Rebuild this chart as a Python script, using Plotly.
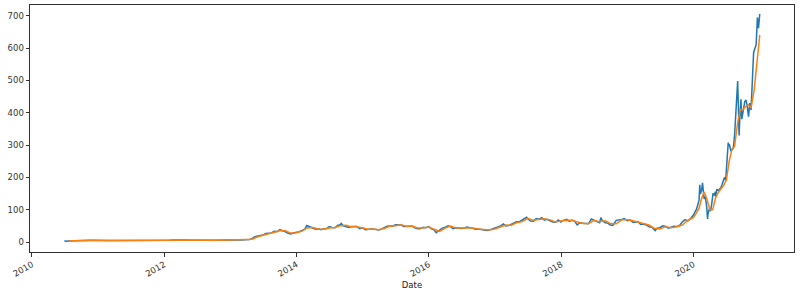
import plotly.graph_objects as go

close_dates = [
"2010-06-29","2010-07-06","2010-07-20","2010-08-16","2010-09-15","2010-10-15","2010-11-10","2010-12-01","2010-12-31",
"2011-01-31","2011-02-28","2011-03-31","2011-04-29","2011-05-31","2011-06-30","2011-07-29","2011-08-31","2011-09-30","2011-10-31","2011-11-30","2011-12-30",
"2012-01-31","2012-02-29","2012-03-30","2012-04-30","2012-05-31","2012-06-29","2012-07-31","2012-08-31","2012-09-28","2012-10-31","2012-11-30","2012-12-31",
"2013-01-31","2013-02-28","2013-03-28","2013-04-15","2013-04-30","2013-05-10","2013-05-31","2013-06-14","2013-06-28","2013-07-15","2013-07-31","2013-08-15","2013-08-30","2013-09-16","2013-09-30","2013-10-15","2013-10-31","2013-11-15","2013-11-29","2013-12-13","2013-12-31",
"2014-01-15","2014-01-31","2014-02-14","2014-02-26","2014-03-14","2014-03-31","2014-04-15","2014-04-30","2014-05-15","2014-05-30","2014-06-13","2014-06-30","2014-07-15","2014-07-31","2014-08-15","2014-08-29","2014-09-04","2014-09-15","2014-09-30","2014-10-15","2014-10-31","2014-11-14","2014-11-28","2014-12-15","2014-12-31",
"2015-01-15","2015-01-30","2015-02-13","2015-02-27","2015-03-13","2015-03-31","2015-04-15","2015-04-30","2015-05-15","2015-05-29","2015-06-15","2015-06-30","2015-07-15","2015-07-31","2015-08-14","2015-08-31","2015-09-15","2015-09-30","2015-10-15","2015-10-30","2015-11-13","2015-11-30","2015-12-15","2015-12-31",
"2016-01-15","2016-01-29","2016-02-10","2016-02-29","2016-03-15","2016-03-31","2016-04-15","2016-04-29","2016-05-13","2016-05-31","2016-06-15","2016-06-30","2016-07-15","2016-07-29","2016-08-15","2016-08-31","2016-09-15","2016-09-30","2016-10-14","2016-10-31","2016-11-14","2016-11-30","2016-12-15","2016-12-30",
"2017-01-13","2017-01-31","2017-02-15","2017-02-28","2017-03-15","2017-03-31","2017-04-13","2017-04-28","2017-05-15","2017-05-31","2017-06-15","2017-06-23","2017-06-30","2017-07-14","2017-07-31","2017-08-15","2017-08-31","2017-09-15","2017-09-29","2017-10-13","2017-10-31","2017-11-15","2017-11-30","2017-12-15","2017-12-29",
"2018-01-12","2018-01-31","2018-02-14","2018-02-28","2018-03-15","2018-03-29","2018-04-13","2018-04-30","2018-05-15","2018-05-31","2018-06-15","2018-06-29","2018-07-13","2018-07-31","2018-08-07","2018-08-15","2018-08-31","2018-09-14","2018-09-28","2018-10-12","2018-10-31","2018-11-15","2018-11-30","2018-12-14","2018-12-31",
"2019-01-15","2019-01-31","2019-02-15","2019-02-28","2019-03-15","2019-03-29","2019-04-15","2019-04-30","2019-05-15","2019-05-31","2019-06-03","2019-06-14","2019-06-28","2019-07-15","2019-07-31","2019-08-15","2019-08-30","2019-09-13","2019-09-30","2019-10-15","2019-10-31","2019-11-15","2019-11-29","2019-12-13","2019-12-31",
"2020-01-03","2020-01-10","2020-01-17","2020-01-24","2020-01-31","2020-02-04","2020-02-07","2020-02-14","2020-02-19","2020-02-28","2020-03-06","2020-03-13","2020-03-18","2020-03-20","2020-03-27","2020-04-03","2020-04-09","2020-04-17","2020-04-24","2020-04-30","2020-05-01","2020-05-08","2020-05-15","2020-05-22","2020-05-29","2020-06-05","2020-06-12","2020-06-19","2020-06-26","2020-07-02","2020-07-10","2020-07-13","2020-07-17","2020-07-24","2020-07-31","2020-08-07","2020-08-14","2020-08-21","2020-08-28","2020-08-31","2020-09-04","2020-09-08","2020-09-11","2020-09-18","2020-09-23","2020-10-02","2020-10-09","2020-10-16","2020-10-23","2020-10-30","2020-11-06","2020-11-13","2020-11-20","2020-11-27","2020-12-04","2020-12-11","2020-12-18","2020-12-24","2020-12-31",
]
close_values = [
4.78,3.2,4.0,3.9,4.1,4.1,5.8,6.0,5.3,
4.8,4.8,5.5,5.4,6.0,5.8,5.5,4.9,4.9,5.8,6.5,5.7,
5.8,6.7,7.4,6.6,5.9,6.3,5.6,5.7,5.9,5.6,6.8,6.8,
7.5,7.0,7.6,8.5,10.8,15.5,19.5,19.7,21.9,26.6,26.9,28.4,33.7,33.0,38.6,36.4,31.9,27.1,25.4,28.3,30.1,
32.5,36.3,39.9,51.5,46.8,41.7,39.8,41.5,38.8,41.5,41.3,48.0,45.2,44.7,51.6,53.8,57.7,50.6,48.5,45.5,48.2,49.5,48.8,41.4,44.5,
38.4,40.8,40.8,40.5,38.7,37.8,41.0,45.0,49.4,50.0,49.8,53.7,53.2,53.3,48.7,49.7,50.6,49.7,44.3,41.3,41.3,46.0,44.5,48.0,
41.0,38.2,29.5,38.3,43.4,45.9,50.9,48.0,41.6,44.6,43.4,42.4,44.0,46.9,45.0,42.5,40.0,40.8,39.2,39.5,36.4,37.6,40.3,42.7,
47.5,50.4,56.2,49.9,51.1,55.7,60.9,62.9,63.2,68.2,74.6,77.0,72.2,65.5,65.0,72.9,71.1,75.9,68.2,71.0,66.2,62.2,61.7,68.8,62.3,
67.3,70.9,64.7,68.6,65.1,53.2,60.0,58.6,57.6,56.9,71.6,68.6,63.7,59.9,75.9,67.0,60.3,58.9,52.9,51.6,67.5,68.6,70.1,73.2,66.6,
68.8,61.4,61.5,63.9,55.0,55.9,53.4,47.7,46.0,37.0,35.8,43.0,44.7,50.4,48.3,43.0,45.1,49.0,48.1,51.5,62.7,69.5,65.9,71.9,83.7,
88.6,95.0,102.1,113.9,130.1,177.4,149.0,160.0,183.5,133.6,140.7,109.3,72.2,85.5,102.9,96.0,114.6,150.8,145.0,156.4,140.3,163.9,159.8,163.4,167.0,177.1,187.1,200.2,191.9,241.7,308.0,299.4,300.2,283.4,286.2,290.5,330.1,409.0,442.7,498.3,418.3,330.2,372.7,442.2,380.4,415.1,434.0,439.7,420.6,388.0,429.9,408.5,489.6,585.8,599.0,609.9,695.0,661.8,705.7,
]

ma_dates = [
"2010-07-27","2010-09-30","2010-11-30","2010-12-31",
"2011-03-31","2011-06-30","2011-09-30","2011-12-30",
"2012-03-30","2012-06-29","2012-09-28","2012-12-31",
"2013-03-28","2013-04-30","2013-05-31","2013-06-28","2013-07-31","2013-08-30","2013-09-30","2013-10-31","2013-11-29","2013-12-31",
"2014-01-31","2014-02-28","2014-03-31","2014-04-30","2014-05-30","2014-06-30","2014-07-31","2014-08-29","2014-09-30","2014-10-31","2014-11-28","2014-12-31",
"2015-01-30","2015-02-27","2015-03-31","2015-04-30","2015-05-29","2015-06-30","2015-07-31","2015-08-31","2015-09-30","2015-10-30","2015-11-30","2015-12-31",
"2016-01-29","2016-02-29","2016-03-31","2016-04-29","2016-05-31","2016-06-30","2016-07-29","2016-08-31","2016-09-30","2016-10-31","2016-11-30","2016-12-30",
"2017-01-31","2017-02-28","2017-03-31","2017-04-28","2017-05-31","2017-06-30","2017-07-31","2017-08-31","2017-09-29","2017-10-31","2017-11-30","2017-12-29",
"2018-01-31","2018-02-28","2018-03-29","2018-04-30","2018-05-31","2018-06-29","2018-07-31","2018-08-31","2018-09-28","2018-10-31","2018-11-30","2018-12-31",
"2019-01-31","2019-02-28","2019-03-29","2019-04-30","2019-05-31","2019-06-28","2019-07-31","2019-08-30","2019-09-30","2019-10-31","2019-11-29","2019-12-31",
"2020-01-15","2020-01-31","2020-02-14","2020-02-28","2020-03-13","2020-03-31","2020-04-15","2020-04-30","2020-05-15","2020-05-29","2020-06-15","2020-06-30","2020-07-15","2020-07-31","2020-08-14","2020-08-31","2020-09-15","2020-09-30","2020-10-15","2020-10-30","2020-11-13","2020-11-30","2020-12-15","2020-12-31",
]
ma_values = [
4.1,4.1,5.7,6.0,
5.0,5.7,4.9,6.2,
7.0,6.1,5.8,6.6,
7.5,9.0,16.5,20.5,25.5,30.0,35.5,35.0,28.0,29.0,
34.0,44.0,45.0,41.0,40.0,44.0,45.5,50.5,52.5,47.0,48.5,43.5,
40.0,40.5,38.5,42.5,49.0,51.0,53.5,48.5,50.0,44.0,43.5,46.5,
41.0,33.5,43.5,50.0,43.5,44.0,45.0,44.0,40.5,40.0,37.5,40.5,
48.5,53.0,52.5,60.0,63.5,73.5,67.5,70.5,72.5,69.0,62.5,65.5,
68.0,67.0,62.0,57.5,57.5,67.0,63.0,66.0,57.5,57.0,69.0,69.5,
66.0,62.0,56.5,53.0,42.0,41.0,48.0,45.0,48.0,53.0,67.0,76.0,
89.0,105.0,135.0,155.0,135.0,100.0,100.0,135.0,153.0,162.0,176.0,193.0,250.0,288.0,296.0,370.0,410.0,410.0,420.0,425.0,415.0,470.0,565.0,640.0,
]

y_ticks = [0, 100, 200, 300, 400, 500, 600, 700]
x_tick_years = ["2010", "2012", "2014", "2016", "2018", "2020"]

fig = go.Figure()
fig.add_trace(go.Scatter(x=close_dates, y=close_values, mode="lines",
                         line=dict(color="#1f77b4", width=1.5), name="Close"))
fig.add_trace(go.Scatter(x=ma_dates, y=ma_values, mode="lines",
                         line=dict(color="#ff7f0e", width=1.5), name="MA"))

font = dict(family="DejaVu Sans", size=8.5, color="#333")
fig.update_layout(
    width=806, height=293,
    margin=dict(l=30, r=12, t=4, b=38),
    paper_bgcolor="white", plot_bgcolor="white",
    showlegend=False,
    font=font,
)
fig.update_xaxes(
    type="date",
    range=["2009-12-21", "2021-07-08"],
    tickvals=[y + "-01-01" for y in x_tick_years],
    ticktext=x_tick_years,
    tickangle=-30,
    ticks="outside", ticklen=3.5, tickcolor="#333", tickwidth=1,
    showline=True, linecolor="#333", linewidth=1, mirror=True,
    showgrid=False, zeroline=False,
    title=dict(text="Date", font=dict(family="DejaVu Sans", size=8.5, color="#222"), standoff=4),
    tickfont=font,
)
fig.update_yaxes(
    range=[-30.4, 733.4],
    tickvals=y_ticks,
    ticks="outside", ticklen=3.5, tickcolor="#333", tickwidth=1,
    showline=True, linecolor="#333", linewidth=1, mirror=True,
    showgrid=False, zeroline=False,
    tickfont=font,
)

fig.write_html("out.html")
